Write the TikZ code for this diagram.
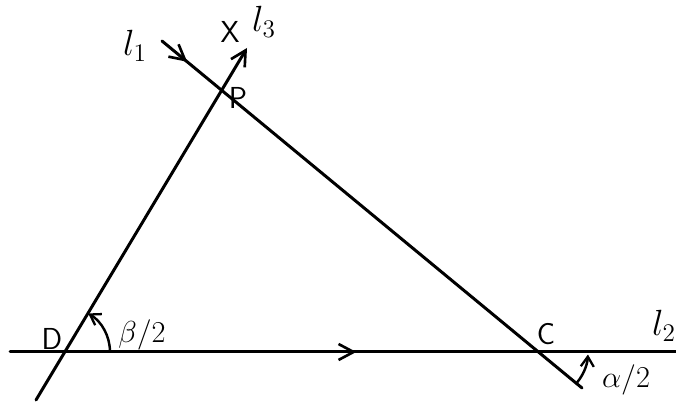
\documentclass[tikz,border=0pt]{standalone}
\usepackage{amsmath}
\usepackage{tikz}
\usetikzlibrary{arrows.meta,positioning,decorations.markings}

\begin{document}
\begin{tikzpicture}[
  x=0.02cm, y=0.02cm,
  ln/.style={line width=1.7pt, line cap=round},
  tip/.style={-{Straight Barb[length=3mm,width=3.2mm,line width=1.5pt]}},
  midarr/.style={postaction={decorate}, decoration={markings,
    mark=at position #1 with {\arrow{Straight Barb[length=3mm,width=3.2mm,line width=1.5pt]}}}},
  lab/.style={font=\LARGE\sffamily, inner sep=1pt},
  mlab/.style={font=\LARGE, inner sep=1pt},
  llab/.style={font=\huge, inner sep=1pt}
]
\useasboundingbox (0,0) rectangle (676,404);
% points
\coordinate (D) at (65,52);
\coordinate (P) at (222,314);
\coordinate (C) at (540,52);
\coordinate (l1s) at (162,363);
\coordinate (l1e) at (582,16);
\coordinate (l3s) at (36,4);
\coordinate (l3e) at (247,356);
\coordinate (l2s) at (10,52);
\coordinate (l2e) at (676,52);
% lines
\draw[ln, midarr=0.06] (l1s) -- (l1e);
\draw[ln, midarr=0.52] (l2s) -- (l2e);
\draw[ln, tip] (l3s) -- (l3e);
% angles
\draw[line width=1.4pt, -{Straight Barb[length=2mm,width=2.6mm,line width=1.3pt]}]
  ([shift={(0:0.9cm)}]D) arc[start angle=0, end angle=59, radius=0.9cm];
\draw[line width=1.4pt, -{Straight Barb[length=2mm,width=2.6mm,line width=1.3pt]}]
  ([shift={(-39.5:0.96cm)}]C) arc[start angle=-39.5, end angle=-3, radius=0.96cm];
% labels
\node[llab] (nl1) at (135,358) {$l_1$};
\node[lab] (nX) at (230,372) {X};
\node[llab] (nl3) at (264,382) {$l_3$};
\node[lab] (nP) at (238,306) {P};
\node[lab] (nD) at (52,65) {D};
\node[mlab] (nb) at (142,69) {$\beta/2$};
\node[lab] (nC) at (546,70) {C};
\node[llab] (nl2) at (664,78) {$l_2$};
\node[mlab] (na) at (626,24) {$\alpha/2$};
\end{tikzpicture}
\end{document}
